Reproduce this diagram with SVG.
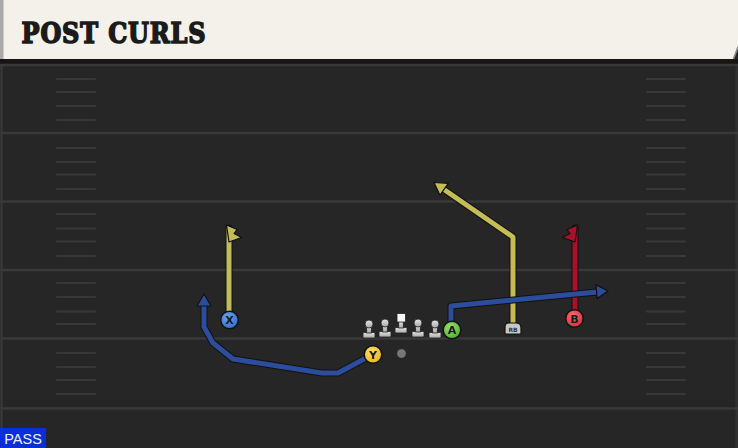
<svg xmlns="http://www.w3.org/2000/svg" width="738" height="448" viewBox="0 0 738 448">
  <defs>
    <style>
      .yard{stroke:#393939;stroke-width:2.5;fill:none}
      .hash{stroke:#383838;stroke-width:2;stroke-linecap:round;fill:none}
      .out{stroke:#111;stroke-width:7;fill:none;stroke-linejoin:round;stroke-linecap:round}
      .yel{stroke:#c4bd55;stroke-width:5;fill:none;stroke-linejoin:round}
      .blu{stroke:#2c4c9c;stroke-width:5;fill:none;stroke-linejoin:round}
      .red{stroke:#a8112c;stroke-width:5;fill:none;stroke-linejoin:round}
      .ah{stroke:#111;stroke-width:1.2;stroke-linejoin:round}
      .ply{stroke:#111;stroke-width:1.5}
      .lbl{font-family:"DejaVu Sans","Liberation Sans",sans-serif;font-weight:bold;font-size:11px;fill:#1a1a1a;text-anchor:middle}
    </style>
    <linearGradient id="lm" x1="0" y1="0" x2="0" y2="1">
      <stop offset="0" stop-color="#e6e6e6"/>
      <stop offset="1" stop-color="#a8a8a8"/>
    </linearGradient>
    <radialGradient id="gb" cx="0.4" cy="0.35" r="0.7">
      <stop offset="0" stop-color="#6aa4ee"/>
      <stop offset="1" stop-color="#2f6cc8"/>
    </radialGradient>
    <radialGradient id="gy" cx="0.4" cy="0.35" r="0.7">
      <stop offset="0" stop-color="#ffe066"/>
      <stop offset="1" stop-color="#e6b416"/>
    </radialGradient>
    <radialGradient id="gg" cx="0.4" cy="0.35" r="0.7">
      <stop offset="0" stop-color="#9ae070"/>
      <stop offset="1" stop-color="#4cb02c"/>
    </radialGradient>
    <radialGradient id="gr" cx="0.4" cy="0.35" r="0.7">
      <stop offset="0" stop-color="#ff6a70"/>
      <stop offset="1" stop-color="#d82a3a"/>
    </radialGradient>
    <g id="lineman">
      <rect x="-6" y="-5" width="12" height="5.5" rx="1" fill="url(#lm)" stroke="#222" stroke-width="0.8"/>
      <rect x="-2.3" y="-12" width="4.6" height="7.5" fill="url(#lm)" stroke="#222" stroke-width="0.8"/>
      <circle cx="0" cy="-13.5" r="4" fill="url(#lm)" stroke="#222" stroke-width="0.8"/>
    </g>
  </defs>

  <!-- field -->
  <rect x="0" y="0" width="738" height="448" fill="#262626"/>
  <rect x="0" y="59" width="738" height="6" fill="#161616"/>
  <line x1="1.5" y1="64" x2="1.5" y2="448" stroke="#3a3a3a" stroke-width="2"/>
  <line x1="736.5" y1="64" x2="736.5" y2="448" stroke="#333" stroke-width="2"/>
  <g id="yardlines">
    <line class="yard" x1="0" y1="65" x2="738" y2="65"/>
    <line class="yard" x1="0" y1="133" x2="738" y2="133"/>
    <line class="yard" x1="0" y1="201.5" x2="738" y2="201.5"/>
    <line class="yard" x1="0" y1="270" x2="738" y2="270"/>
    <line class="yard" x1="0" y1="338.5" x2="738" y2="338.5"/>
    <line class="yard" x1="0" y1="408.5" x2="738" y2="408.5"/>
  </g>
  <g id="hashes">
    <path class="hash" d="M57,79H95M57,92H95M57,106H95M57,120H95M57,148H95M57,162H95M57,174.5H95M57,189H95M57,214H95M57,228.5H95M57,241.5H95M57,256H95M57,283H95M57,297H95M57,311.5H95M57,324H95M57,353H95M57,367H95M57,380H95M57,394H95"/>
    <path class="hash" d="M647,79H685M647,92H685M647,106H685M647,120H685M647,148H685M647,162H685M647,174.5H685M647,189H685M647,214H685M647,228.5H685M647,241.5H685M647,256H685M647,283H685M647,297H685M647,311.5H685M647,324H685M647,353H685M647,367H685M647,380H685M647,394H685"/>
  </g>

  <!-- header -->
  <g id="header">
    <polygon points="0,0 738,0 738,46 733,59 0,59" fill="#f4f1ea"/>
    <line x1="733.5" y1="59" x2="738" y2="47" stroke="#8a8a8a" stroke-width="1.5"/>
    <rect x="0" y="0" width="3.5" height="59" fill="#a9a9a9"/>
    <text x="21.5" y="42.5" font-family="'DejaVu Serif','Liberation Serif',serif" font-weight="900" font-size="28" fill="#1b1b1b" stroke="#1b1b1b" stroke-width="1.6" stroke-linejoin="miter" letter-spacing="1" textLength="185" lengthAdjust="spacingAndGlyphs">POST CURLS</text>
  </g>

  <!-- connectors -->
  <g id="routes">
    <!-- X curl -->
    <path class="out" d="M229,312V228"/>
    <path class="yel" d="M229,312V228"/>
    <polygon class="ah" fill="#c4bd55" points="226.5,225 237,229.5 234,233.5 241.5,237.5 229,242"/>
    <!-- B curl -->
    <path class="out" d="M575,311V228"/>
    <path class="red" d="M575,311V228"/>
    <polygon class="ah" fill="#a8112c" points="577.5,225 567,229.5 570,233.5 562.5,237.5 575,242"/>
    <!-- RB post -->
    <path class="out" d="M513,325V237L444,189.5"/>
    <path class="yel" d="M513,325V237L444,189.5"/>
    <polygon class="ah" fill="#c4bd55" points="434,182.5 448.3,183.3 440,195.2"/>
    <!-- A drag -->
    <path class="out" d="M451,322V306L597,292"/>
    <path class="blu" d="M451,322V306L597,292"/>
    <polygon class="ah" fill="#2c4c9c" points="608,291 597.2,298.6 595.9,284.6"/>
    <!-- Y wheel -->
    <path class="out" d="M366,358L338,373L322,373L233,359L213,343L204,327V306"/>
    <path class="blu" d="M366,358L338,373L322,373L233,359L213,343L204,327V306"/>
    <polygon class="ah" fill="#2c4c9c" points="204,294 211,306 197,306"/>
  </g>

  <!-- line -->
  <g id="oline">
    <use href="#lineman" x="369" y="337.5"/>
    <use href="#lineman" x="385" y="336.5"/>
    <use href="#lineman" x="418" y="336.5"/>
    <use href="#lineman" x="435" y="337.5"/>
  </g>
  <g id="center">
    <rect x="395" y="327.5" width="12" height="5.5" rx="1" fill="url(#lm)" stroke="#222" stroke-width="0.8"/>
    <rect x="398.7" y="321" width="4.6" height="7" fill="url(#lm)" stroke="#222" stroke-width="0.8"/>
    <rect x="397" y="313.5" width="8.5" height="8.5" fill="#f6f6f6" stroke="#222" stroke-width="0.8"/>
  </g>
  <g id="qb">
    <circle cx="401.5" cy="353.5" r="4.8" fill="#777" stroke="#222" stroke-width="0.8"/>
  </g>

  <g id="X">
    <circle class="ply" cx="229.5" cy="320" r="8.8" fill="url(#gb)"/>
    <text class="lbl" x="229.5" y="324">X</text>
  </g>
  <g id="Y">
    <circle class="ply" cx="373" cy="354.5" r="8.8" fill="url(#gy)"/>
    <text class="lbl" x="373" y="358.5">Y</text>
  </g>
  <g id="A">
    <circle class="ply" cx="452" cy="330" r="8.8" fill="url(#gg)"/>
    <text class="lbl" x="452" y="334">A</text>
  </g>
  <g id="B">
    <circle class="ply" cx="574.5" cy="318.5" r="8.8" fill="url(#gr)"/>
    <text class="lbl" x="574.5" y="322.5">B</text>
  </g>
  <g id="RB">
    <path d="M505,334V327Q505,323 509,323H516Q521,323 521,328V334Z" fill="#c8c8c8" stroke="#111" stroke-width="1.2"/>
    <text x="513" y="331.5" font-family="'DejaVu Sans','Liberation Sans',sans-serif" font-size="6" font-weight="bold" fill="#333" text-anchor="middle">RB</text>
  </g>

  <g id="pass">
    <rect x="0" y="428" width="46" height="20" fill="#0a2ed8"/>
    <text x="23" y="444" font-family="'Liberation Sans','DejaVu Sans',sans-serif" font-size="14.5" fill="#eef2ff" text-anchor="middle">PASS</text>
  </g>
</svg>
